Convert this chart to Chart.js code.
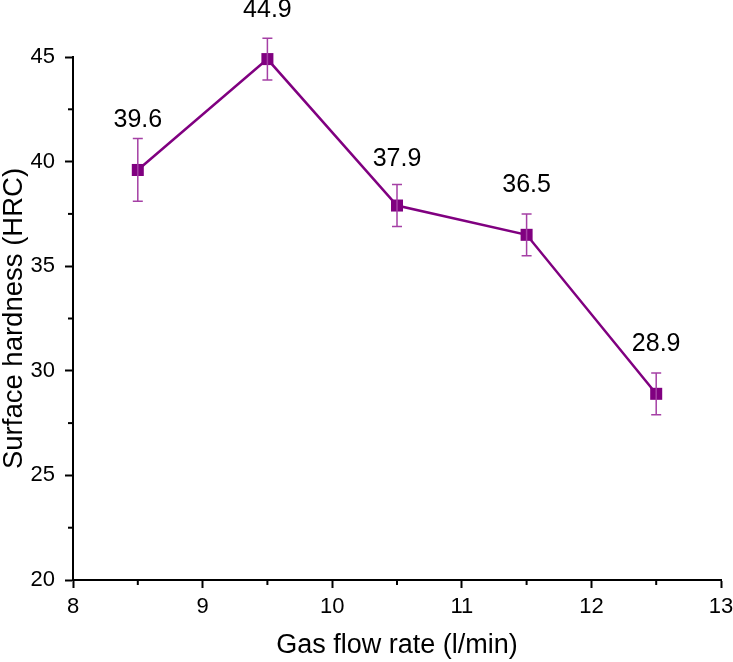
<!DOCTYPE html>
<html><head><meta charset="utf-8">
<script src="https://cdn.jsdelivr.net/npm/chart.js@4.4.1/dist/chart.umd.min.js"></script>
<style>html,body{margin:0;padding:0;background:#fff}#wrap{width:733px;height:662px}</style>
</head><body><div id="wrap"><canvas id="c" width="733" height="662"></canvas></div>
<script>
const flowRates = [8.5, 9.5, 10.5, 11.5, 12.5];
const hardness = [39.6, 44.9, 37.9, 36.5, 28.9];
const errors = [1.5, 1.0, 1.0, 1.0, 1.0];
const xTicks = [8, 9, 10, 11, 12, 13];
const yTicks = [20, 25, 30, 35, 40, 45];

const FONT = 'Liberation Sans, Arial, sans-serif';

const extras = {
  id: 'extras',
  afterDatasetsDraw(chart, args, opts) {
    const ctx = chart.ctx;
    const xs = chart.scales.x, ys = chart.scales.y;
    ctx.save();
    // minor ticks
    ctx.strokeStyle = '#000'; ctx.lineWidth = 2;
    for (let v = xs.min + 0.5; v < xs.max; v += 1) {
      const px = xs.getPixelForValue(v);
      ctx.beginPath(); ctx.moveTo(px, xs.top); ctx.lineTo(px, xs.top + 5); ctx.stroke();
    }
    for (let v = ys.min + 2.5; v < ys.max; v += 5) {
      const py = ys.getPixelForValue(v);
      ctx.beginPath(); ctx.moveTo(ys.right, py); ctx.lineTo(ys.right - 5, py); ctx.stroke();
    }
    // error bars
    ctx.strokeStyle = '#a540a5'; ctx.lineWidth = 1.5;
    flowRates.forEach((x, i) => {
      const px = xs.getPixelForValue(x);
      const pt = ys.getPixelForValue(hardness[i] + errors[i]);
      const pb = ys.getPixelForValue(hardness[i] - errors[i]);
      ctx.beginPath();
      ctx.moveTo(px, pt); ctx.lineTo(px, pb);
      ctx.moveTo(px - 5, pt); ctx.lineTo(px + 5, pt);
      ctx.moveTo(px - 5, pb); ctx.lineTo(px + 5, pb);
      ctx.stroke();
      // value labels
      ctx.fillStyle = '#000';
      ctx.font = '25px ' + FONT;
      ctx.textAlign = 'center'; ctx.textBaseline = 'middle';
      ctx.fillText(hardness[i].toFixed(1), px, pt - opts.labelGap[i]);
    });
    ctx.restore();
  }
};

new Chart(document.getElementById('c'), {
  type: 'line',
  data: {
    datasets: [{
      data: flowRates.map((x, i) => ({x, y: hardness[i]})),
      borderColor: '#800080', backgroundColor: '#800080',
      borderWidth: 2.5, pointStyle: 'rect', pointRadius: 8.5,
      pointBorderWidth: 0, clip: false, tension: 0
    }]
  },
  options: {
    responsive: false, animation: false,
    layout: { padding: { top: 57, right: 0, left: 0, bottom: 0 } },
    plugins: { legend: { display: false }, tooltip: { enabled: false },
      extras: { labelGap: [18, 28, 26, 29, 29] } },
    scales: {
      x: {
        type: 'linear', min: 8, max: 13,
        afterBuildTicks: s => { s.ticks = xTicks.map(v => ({value: v})); },
        afterFit: s => { s.height = 82; s.paddingRight = 12; s.paddingLeft = 0; },
        border: { display: true, color: '#000', width: 2 },
        grid: { drawOnChartArea: false, drawTicks: true, tickLength: 8, tickColor: '#000', tickWidth: 2 },
        ticks: { color: '#000', font: { family: FONT, size: 22 }, padding: 6, maxRotation: 0 },
        title: { display: true, text: 'Gas flow rate (l/min)', color: '#000',
          font: { family: FONT, size: 27 }, padding: { top: 0, bottom: 0 } }
      },
      y: {
        type: 'linear', min: 20, max: 45,
        afterBuildTicks: s => { s.ticks = yTicks.map(v => ({value: v})); },
        afterFit: s => { s.width = 73; },
        border: { display: true, color: '#000', width: 2 },
        grid: { drawOnChartArea: false, drawTicks: true, tickLength: 8, tickColor: '#000', tickWidth: 2 },
        ticks: { color: '#000', font: { family: FONT, size: 22 }, padding: 10 },
        title: { display: true, text: 'Surface hardness (HRC)', color: '#000',
          font: { family: FONT, size: 27.5 }, padding: { top: -2, bottom: 0 } }
      }
    }
  },
  plugins: [extras]
});
</script></body></html>
